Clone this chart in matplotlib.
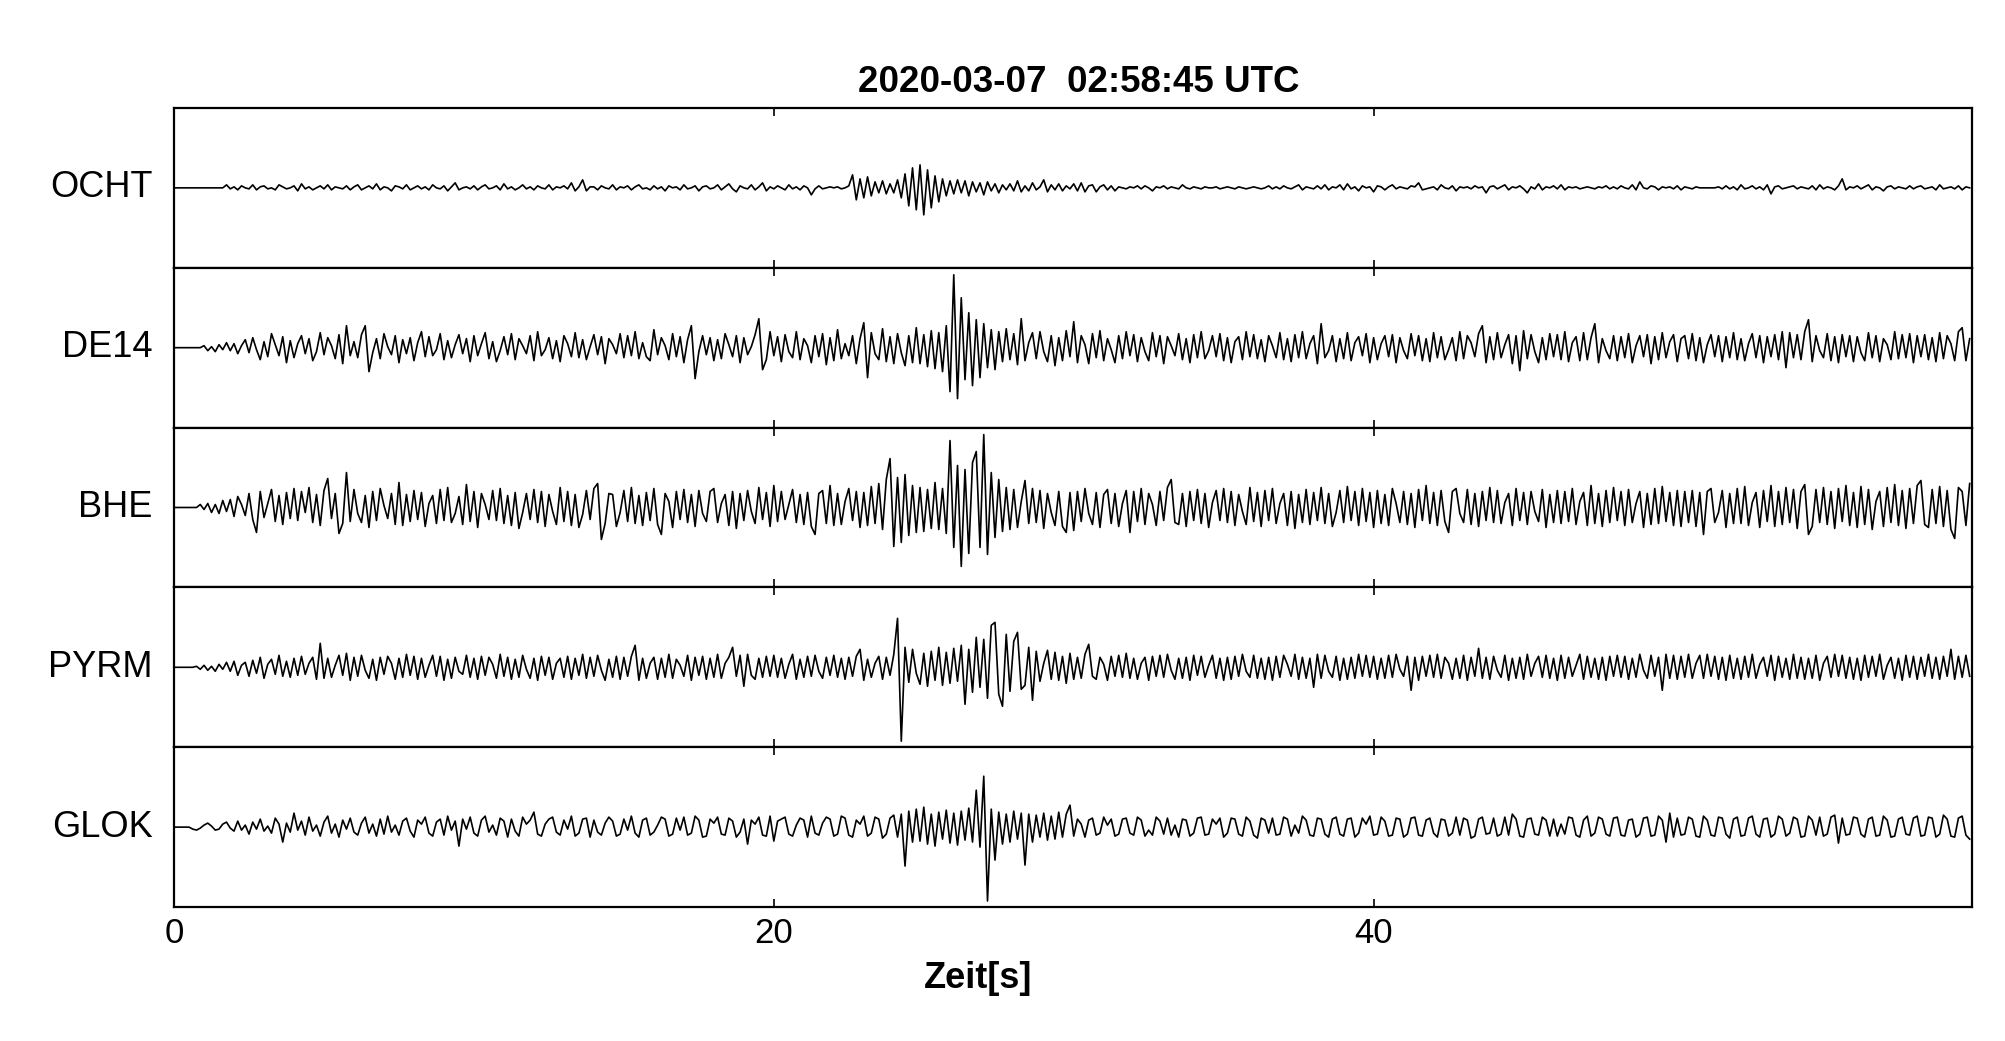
import numpy as np
import matplotlib
matplotlib.use("Agg")
import matplotlib.pyplot as plt

plt.rcParams['font.family'] = ['Liberation Sans', 'DejaVu Sans']

# traces, 8 samples per second, amplitude in panel units (+-80)
fs = 8
stations = ["OCHT", "DE14", "BHE", "PYRM", "GLOK"]
title = "2020-03-07  02:58:45 UTC"
xticks = [0, 20, 40]

ocht = [
    0,0,0,0,0,0,0,0,0,0,0,0,0,0,3,-1,
    1,-2,2,0,-1,3,-2,1,2,-1,0,-2,3,1,-1,0,
    2,-3,4,-1,1,-2,0,2,-1,3,-2,1,0,-1,2,-2,
    1,3,-2,0,2,-1,4,-2,1,0,-3,2,1,-1,3,-2,
    0,2,-1,1,-2,3,0,-1,2,-3,1,5,-2,0,1,-1,
    2,-2,1,3,-1,0,2,-2,4,-1,1,-2,0,3,-1,1,
    -2,2,0,-1,3,-2,1,0,2,-1,5,-3,1,8,-3,1,
    1,-2,2,0,-1,3,-2,1,0,2,-2,1,3,-1,0,-2,
    2,-1,1,-3,2,0,1,-2,3,-1,0,2,-3,1,2,-1,
    0,3,-2,1,4,-1,-4,2,0,-1,3,-2,1,5,-3,1,
    -1,2,0,-2,3,-1,1,-2,2,0,-7,-1,2,-1,0,1,
    0,1,-1,0,2,13,-12,9,-10,11,-8,6,-5,7,-6,4,
    -5,8,-10,14,-18,20,-22,23,-27,18,-20,12,-14,9,-8,7,
    -6,8,-5,7,-8,6,-4,5,-7,6,-3,4,-5,3,-2,4,
    -3,7,-4,2,-3,5,-2,1,8,-4,3,-2,4,-3,2,-1,
    4,-3,5,-4,2,3,-4,1,3,-2,2,-3,1,0,-1,1,
    0,2,-1,2,0,-3,1,0,2,-1,1,0,-1,3,0,-1,
    1,0,-1,1,0,0,1,-1,0,1,0,-1,1,0,-1,0,
    1,0,-1,0,2,-1,1,-1,2,0,-1,1,3,-2,1,0,
    -1,2,-1,3,-2,1,0,3,-2,4,-1,1,-3,2,0,1,
    -4,2,1,-2,1,3,-1,1,0,-1,2,1,5,-2,-1,0,
    1,-2,3,0,-1,2,-3,1,0,1,-1,2,0,1,-5,1,
    2,-1,1,3,-2,1,0,2,-1,-5,1,-1,4,-2,1,0,
    2,-1,3,-2,1,0,1,-1,0,1,0,-1,1,0,2,-1,
    1,-1,2,0,-1,3,-2,6,0,-1,2,1,-2,1,0,1,
    -1,2,-2,1,0,-1,1,0,0,0,0,0,1,-1,2,-1,
    1,-2,3,-1,0,2,-1,1,-2,3,-6,1,2,-1,0,1,
    2,-1,1,0,-1,2,-2,3,-1,1,0,-2,2,9,-2,1,
    0,2,-1,1,3,-2,1,0,-3,1,2,-1,1,0,-1,2,
    -1,1,2,-1,0,1,-2,3,-1,0,1,-1,2,-2,1,0,
]

de14 = [
    0,0,0,0,0,0,0,0,2,-3,1,-4,3,-2,5,-3,
    4,-6,2,8,-5,10,-2,-12,6,-9,14,3,-8,11,-15,7,
    -10,4,12,-6,9,-13,-4,15,-7,10,2,-11,13,-16,22,-8,
    6,-10,13,22,-24,-5,9,-11,14,1,-7,12,-15,8,-6,10,
    -13,5,16,-9,11,-8,-2,14,-12,7,-10,3,13,-6,9,-14,
    12,-8,4,15,-11,6,-14,-3,11,-7,14,-12,9,2,-6,12,
    -13,16,-8,-2,10,-11,7,-14,12,4,-9,15,-10,8,-12,1,
    13,-7,11,-16,9,3,-6,14,-10,12,-8,16,-11,5,-9,-13,
    18,-7,10,2,-12,14,-9,11,-15,8,22,-31,-4,12,-7,10,
    -13,8,-11,14,3,-9,12,-15,10,-7,1,13,29,-22,-12,16,
    -8,11,-14,13,-4,-10,16,-12,9,2,-15,12,-9,14,-17,10,
    -13,18,-11,4,-8,12,-16,9,25,-30,15,-6,-12,19,-14,11,
    -16,14,-5,-18,12,-15,20,-16,13,-19,17,-21,15,-24,22,-44,
    73,-51,50,-32,35,-38,28,-30,24,-20,18,-22,16,-14,19,-12,
    14,-17,29,-13,5,15,-11,16,-4,-14,12,-18,10,-13,17,-9,
    26,-15,12,3,-16,14,-10,17,-13,9,-2,-15,12,-11,16,-8,
    13,-14,10,-4,-13,15,-9,12,-16,11,2,-8,14,-12,9,-15,
    13,-10,16,-11,-3,12,-9,14,-13,10,-15,6,11,-12,16,-9,
    13,-11,8,-14,12,2,-10,15,-12,9,-14,13,-10,16,-11,4,
    12,-16,24,-10,-3,12,-14,9,-11,15,-13,5,11,-8,14,-15,
    10,-12,4,12,-9,13,-15,10,-3,-11,14,-8,12,-13,9,-14,
    15,-10,11,-12,-2,10,-13,16,-11,12,5,-9,14,22,-15,11,
    -12,15,-10,3,13,-16,12,-23,17,-11,13,-4,-15,10,-12,14,
    -9,13,-12,16,-14,5,11,-13,15,-12,10,24,-15,9,-3,-11,
    12,-13,11,-10,14,-15,2,12,-9,13,-16,11,-12,15,-10,6,
    13,-14,9,12,-11,14,-13,10,-15,3,13,-9,12,-14,11,-10,
    15,-12,9,-13,4,14,-10,12,-15,11,-9,13,-12,16,-20,15,
    -10,13,-12,16,28,-14,12,-3,-10,14,-13,11,-15,13,-9,12,
    -14,11,-5,-13,15,-10,12,-14,9,3,-12,16,-11,13,-10,14,
    -15,12,-9,13,-12,10,-14,15,-11,12,4,-13,16,20,-13,9,
]

bhe = [
    0,0,0,0,0,0,0,3,-2,4,-5,3,-6,7,-4,8,
    -9,11,3,-8,14,-12,-25,16,-10,4,18,-14,12,-17,15,-11,
    19,-13,16,-5,20,-15,13,-18,17,29,-11,14,-26,-16,35,-14,
    18,-6,-15,12,-20,16,-13,19,2,-11,14,-17,25,-18,13,-14,
    17,-12,15,-19,4,12,-16,18,-13,20,-15,-6,11,-17,23,-14,
    16,-20,14,3,-12,17,-13,19,-16,12,-18,15,-21,-5,14,-12,
    18,-15,16,-19,13,-4,-17,20,-14,16,-18,13,-20,-7,17,-12,
    19,24,-32,-16,14,13,-19,-5,17,-14,20,-16,12,-18,15,-13,
    19,-17,-27,14,6,-20,16,-12,18,-15,13,-19,17,-6,-14,16,
    19,-15,4,13,-18,16,-21,14,-13,17,-4,-16,20,-12,15,-19,
    22,-14,16,-12,3,18,-15,13,-17,15,-19,-27,14,17,-16,22,
    -18,14,-17,6,19,-13,16,-20,15,-18,21,-16,24,-22,28,49,
    -39,30,-35,33,-28,22,-25,20,-24,18,-21,25,-22,19,-26,67,
    -40,42,-59,38,-46,45,56,-40,73,-47,35,-30,28,-24,20,-22,
    18,-20,6,27,-16,19,-15,17,-21,14,-5,-18,16,-19,-25,15,
    -23,16,-14,19,-6,-17,15,-20,13,18,-16,14,-19,4,17,-25,
    16,-14,19,-17,14,3,-18,16,-13,20,28,-15,-17,14,-19,16,
    -13,18,-16,14,-20,5,17,-13,19,-15,16,-18,13,-4,-17,20,
    -14,15,-19,17,-13,19,-16,4,14,-18,16,-21,13,-15,18,-17,
    15,-13,20,-16,14,-19,-5,17,-15,21,-13,16,-18,19,-14,15,
    -20,17,-16,13,-18,19,4,-15,16,-17,14,-20,18,-13,22,-16,
    15,-18,17,-14,-25,16,19,-6,-15,18,-17,14,-19,16,-13,20,
    -15,17,-16,5,14,-18,19,-13,15,-17,16,-4,-14,18,-20,13,
    -15,17,-16,16,-14,19,-17,6,15,-18,22,-16,14,-19,17,-15,
    20,-13,16,-18,18,-15,4,16,-20,14,-17,19,-16,21,-14,15,
    -18,17,-19,16,-15,17,-19,15,-27,16,19,-15,-5,17,-20,14,
    -16,19,-16,21,-18,5,15,-20,17,-14,22,-19,16,-17,20,-15,
    18,-21,16,23,-27,-19,18,-15,20,-17,16,-21,19,-14,22,-18,
    15,-20,21,-17,18,-22,6,16,-19,20,-15,23,-18,17,-21,19,
    -16,22,27,-17,-20,18,-16,21,-19,17,-22,-31,20,16,-18,24,
]

pyrm = [
    0,0,0,0,0,0,1,-2,2,-3,1,-4,3,-2,5,-4,
    6,-8,2,5,-9,7,-6,10,-11,3,8,-7,12,-9,6,-10,
    9,-8,11,-7,4,10,-12,24,-11,9,-10,2,12,-8,14,-13,
    10,-9,12,-3,-11,8,-13,10,-7,11,4,-12,9,-10,13,-8,
    11,-12,9,-10,2,12,-9,11,-13,8,-11,10,-4,-7,12,-10,
    9,-12,11,-8,10,3,-11,13,-9,10,-12,8,-10,12,-2,-11,
    9,-13,11,-8,10,-12,4,9,-10,11,-12,9,-8,13,-11,10,
    -9,12,-3,-13,8,-10,11,-12,10,-9,11,22,-13,9,-11,4,
    10,-12,9,-10,13,-11,8,2,-9,12,-13,10,-8,11,-12,9,
    -10,13,-11,4,10,20,-9,12,-19,13,-8,-12,9,-10,11,-9,
    12,-10,9,-11,3,13,-12,8,-10,11,-9,12,-4,-11,10,-8,
    12,-10,9,-12,10,-9,11,18,-13,8,-10,4,11,-12,10,-8,
    13,49,-74,20,-15,18,-6,-17,14,-19,16,-13,20,-18,15,-16,
    19,-14,22,-37,18,-25,30,-20,28,-31,42,45,-27,-39,33,-24,
    26,35,-22,-18,20,-33,16,-14,4,17,-12,15,-13,11,-16,14,
    -12,10,-11,13,23,-9,-12,10,3,-13,11,-9,12,-10,14,-11,
    9,-12,4,10,-13,11,-9,12,-10,13,-3,-12,9,-11,10,-13,
    12,-8,11,-10,2,12,-11,9,-13,10,-12,11,-9,13,-4,-10,
    12,-11,9,-12,10,-13,11,-10,12,3,-9,13,-12,10,-11,9,
    -20,13,-11,12,-4,-10,11,-13,9,-12,10,-11,13,-9,12,-10,
    11,-12,9,-11,12,-10,13,-2,-9,11,-23,10,-13,11,-9,12,
    -10,13,-11,10,4,-12,9,-11,12,-13,10,-9,19,-11,10,-12,
    11,-3,-10,12,-13,9,-11,10,-12,13,-9,4,11,-10,12,-11,
    9,-13,12,-11,10,-9,2,13,-12,11,-10,9,-12,10,-13,11,
    -9,12,-10,11,-12,9,-10,13,-3,-11,12,-9,10,-23,13,-11,
    12,-12,11,-10,13,-11,4,12,-11,13,-9,11,-12,10,-13,12,
    -11,9,-12,11,-10,13,-11,3,10,-9,12,-13,11,-10,9,-12,
    13,-11,10,-12,9,-11,12,-13,4,11,-10,13,-9,12,-11,10,
    -12,9,-13,12,-10,11,-9,13,-12,2,10,-11,9,-13,12,-10,
    11,-12,10,-9,13,-11,10,-12,11,-9,18,-12,11,-10,12,-9,
]

glok = [
    0,0,0,0,0,-2,-3,-1,2,4,1,-3,-2,3,5,-1,
    -4,6,-3,2,-7,5,-2,8,-4,1,-6,9,3,-15,4,-5,
    14,-3,6,-8,10,-4,2,-9,5,11,-6,3,-10,7,-2,9,
    -5,-8,4,10,-6,3,-9,8,-7,11,-5,2,-8,6,9,-4,
    -10,7,3,10,-6,-9,5,8,-8,11,-3,6,-19,8,-2,10,
    -6,-9,7,11,-5,2,-8,9,6,-10,8,-4,-9,10,3,7,
    15,-7,-9,3,8,10,-5,-8,7,-2,11,-9,-6,8,9,-10,
    7,-5,-8,4,10,6,-9,-7,8,-3,11,-6,-10,7,9,-8,
    -5,2,10,8,-9,-7,9,-3,10,-8,-6,11,7,-10,-9,8,
    4,10,-7,-8,9,6,-10,-5,8,-17,7,3,10,-8,-9,11,
    -14,6,8,10,-7,-9,2,9,7,-10,11,-6,-8,4,10,8,
    -9,-7,11,9,-8,-10,7,3,11,-9,-6,10,8,-11,-7,9,
    12,-10,13,-39,16,-15,18,-14,20,-17,13,-19,15,-12,17,-16,
    14,-18,16,-13,19,-15,37,-20,51,-74,18,-33,15,-17,13,-15,
    16,-12,14,-38,13,-15,12,-10,14,-13,11,-12,15,-10,13,22,
    -9,8,3,-10,7,9,-8,-6,10,2,8,-9,-7,8,9,-6,
    -8,10,7,-9,-3,-8,10,6,-7,9,-8,2,-10,8,7,-9,
    -6,9,10,-8,-7,8,3,9,-10,-6,9,8,-7,-9,10,6,
    -8,-11,9,7,-6,9,-8,-7,10,8,-9,2,-6,11,7,-8,
    -9,9,8,-7,-10,8,10,-7,-9,8,9,-10,-6,9,3,11,
    -8,-7,10,6,-9,-8,9,8,-10,-7,9,10,-8,-9,7,9,
    -6,-10,8,7,-9,-6,10,-8,9,7,-11,-9,8,10,-7,-6,
    9,-9,-7,10,-8,13,8,-9,-10,8,9,-7,-8,10,7,-9,
    8,-9,3,-7,10,9,-8,-10,7,11,-9,-6,10,8,-7,-9,
    9,10,-8,-9,7,8,-10,-7,9,10,-9,-8,11,7,-15,14,
    -10,9,-8,-7,10,8,-9,-10,11,7,-8,-9,10,9,-7,-11,
    8,10,-9,-8,9,11,-7,-10,8,9,-10,-7,11,8,-9,-6,
    10,8,-10,-9,11,7,-8,10,-9,-7,10,12,-16,9,-8,-7,
    10,9,-7,-10,8,10,-9,-8,11,7,-10,-9,8,10,-7,-8,
    9,11,-9,-8,10,9,-10,-7,12,8,-9,-10,9,11,-8,-12,
]

traces = [ocht, de14, bhe, pyrm, glok]

fig, axes = plt.subplots(5, 1, sharex=True, figsize=(20.05, 10.41), dpi=100)
fig.subplots_adjust(left=0.0868, right=0.9835, top=0.8963, bottom=0.1287, hspace=0)

for ax, name, y in zip(axes, stations, traces):
    y = np.array(y, dtype=float)
    t = np.arange(len(y)) / fs
    ax.plot(t, y, color='black', lw=1.2)
    ax.set_ylim(-80, 80)
    ax.set_yticks([])
    ax.set_xlim(0, 59.95)
    ax.set_xticks(xticks)
    ax.tick_params(axis='x', direction='in', top=True, length=6, width=1.2,
                   labelsize=25, pad=7)
    for s in ax.spines.values():
        s.set_linewidth(1.6)
    ax.text(-0.012, 0.5, name, transform=ax.transAxes, ha='right', va='center',
            fontsize=26)

fig.text(0.538, 0.921, title, ha='center', va='center', fontsize=26.5,
         fontweight='bold')
fig.text(0.488, 0.0605, "Zeit[s]", ha='center', va='center', fontsize=26,
         fontweight='bold')

fig.savefig("out.png", dpi=100)
